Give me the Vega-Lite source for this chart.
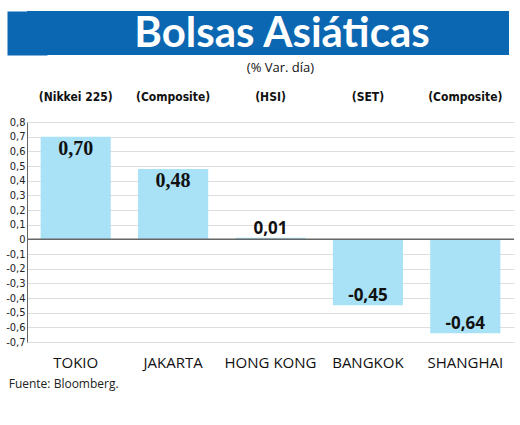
{
  "$schema": "https://vega.github.io/schema/vega-lite/v6.json",
  "background": "white",
  "padding": {"left": 5, "top": 11, "right": 5, "bottom": 5},
  "spacing": 6,
  "config": {
    "view": {"stroke": null},
    "locale": {"number": {"decimal": ",", "thousands": ".", "grouping": [3], "currency": ["", ""], "minus": "-"}},
    "axisY": {
      "title": null,
      "tickCount": 15,
      "format": ".1~f",
      "labelFont": "DejaVu Sans Condensed, Liberation Sans Narrow, sans-serif",
      "labelFontSize": 11,
      "labelColor": "#222",
      "labelPadding": 2,
      "ticks": false,
      "domain": true,
      "domainColor": "#666",
      "grid": true,
      "gridColor": "#dedede",
      "labelOverlap": false
    }
  },
  "vconcat": [
    {
      "width": 482,
      "height": 44,
      "view": {"fill": "#0b67b2", "stroke": null},
      "data": {"values": [{"titulo": "Bolsas Asiáticas"}]},
      "mark": {"type": "text", "font": "Lato", "fontWeight": "bold", "fontSize": 42, "color": "white", "baseline": "middle", "dx": 14, "dy": 1},
      "encoding": {
        "text": {"field": "titulo"},
        "y": {
          "datum": 0,
          "scale": {"domain": [-1, 1], "nice": false},
          "axis": {
            "labels": false, "ticks": false, "grid": false, "title": null,
            "domain": true, "domainColor": "#0b67b2", "domainWidth": 40, "domainCap": "butt"
          }
        }
      }
    },
    {
      "width": 487,
      "height": 220,
      "title": {
        "text": "Fuente: Bloomberg.",
        "orient": "bottom",
        "anchor": "start",
        "frame": "bounds",
        "font": "Open Sans",
        "fontSize": 12,
        "fontWeight": "normal",
        "color": "#222",
        "offset": 9,
        "dx": 3
      },
      "data": {
        "values": [
          {"plaza": "TOKIO", "indice": "(Nikkei 225)", "var": 0.70},
          {"plaza": "JAKARTA", "indice": "(Composite)", "var": 0.48},
          {"plaza": "HONG KONG", "indice": "(HSI)", "var": 0.01},
          {"plaza": "BANGKOK", "indice": "(SET)", "var": -0.45},
          {"plaza": "SHANGHAI", "indice": "(Composite)", "var": -0.64}
        ]
      },
      "resolve": {"axis": {"x": "independent"}},
      "layer": [
        {
          "mark": {"type": "bar", "color": "#a9e1f6"},
          "encoding": {
            "x": {
              "field": "plaza", "type": "nominal", "sort": null,
              "scale": {"paddingInner": 0.28, "paddingOuter": 0.14},
              "axis": {
                "title": null, "labelAngle": 0, "domain": false, "ticks": false,
                "labelFont": "Open Sans", "labelFontSize": 15, "labelColor": "#111",
                "labelPadding": 13
              }
            },
            "y": {
              "field": "var", "type": "quantitative", "title": null,
              "scale": {"domain": [-0.7, 0.8], "nice": false}
            }
          }
        },
        {
          "data": {"values": [{}]},
          "mark": {"type": "rule", "color": "#666", "strokeWidth": 1.5},
          "encoding": {"y": {"datum": 0, "title": null}}
        },
        {
          "transform": [{"filter": "datum.var > 0.1"}],
          "mark": {"type": "text", "font": "Liberation Serif", "fontWeight": "bold", "fontSize": 20, "color": "#111", "baseline": "middle", "dy": 12},
          "encoding": {
            "x": {"field": "plaza", "type": "nominal", "sort": null, "axis": null},
            "y": {"field": "var", "type": "quantitative", "title": null},
            "text": {"field": "var", "type": "quantitative", "format": ".2f"}
          }
        },
        {
          "transform": [{"filter": "datum.var <= 0.1"}],
          "mark": {"type": "text", "font": "Open Sans", "fontWeight": "bold", "fontSize": 17, "color": "#111", "baseline": "middle", "dy": -9},
          "encoding": {
            "x": {"field": "plaza", "type": "nominal", "sort": null, "axis": null},
            "y": {"field": "var", "type": "quantitative", "title": null},
            "text": {"field": "var", "type": "quantitative", "format": ".2f"}
          }
        },
        {
          "mark": {"type": "text", "opacity": 0},
          "encoding": {
            "x": {
              "field": "plaza", "type": "nominal", "sort": null,
              "axis": {
                "orient": "top",
                "title": "(% Var. día)",
                "titleFont": "Open Sans",
                "titleFontWeight": "normal",
                "titleFontSize": 13,
                "titleColor": "#111",
                "titlePadding": 16,
                "titleX": 253,
                "labelAngle": 0,
                "domain": false,
                "ticks": false,
                "labelExpr": "{'TOKIO': '(Nikkei 225)', 'JAKARTA': '(Composite)', 'HONG KONG': '(HSI)', 'BANGKOK': '(SET)', 'SHANGHAI': '(Composite)'}[datum.value]",
                "labelFont": "DejaVu Sans Condensed, Liberation Sans Narrow, sans-serif",
                "labelFontWeight": "bold",
                "labelFontSize": 12,
                "labelColor": "#111",
                "labelPadding": 19
              }
            },
            "y": {"field": "var", "type": "quantitative", "title": null},
            "text": {"field": "indice"}
          }
        }
      ]
    }
  ]
}
